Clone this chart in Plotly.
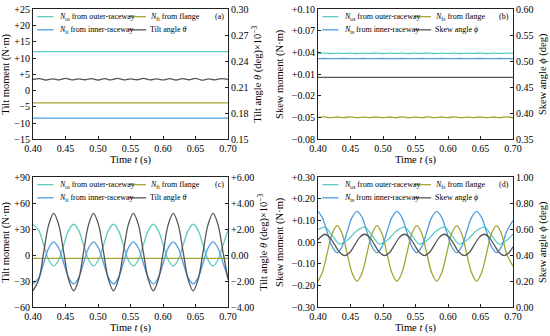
import plotly.graph_objects as go

FONT = "Liberation Serif"
C_OUT = "#5ccbc2"
C_IN = "#4e9de0"
C_FL = "#a5a433"
C_ANG = "#555555"
C_AX = "#222222"

# ---------------- shared time axis ----------------
t_ticks = [0.40, 0.45, 0.50, 0.55, 0.60, 0.65, 0.70]
t_labels = ["0.40", "0.45", "0.50", "0.55", "0.60", "0.65", "0.70"]

# ---------------- (a) tilt, steady case ----------------
t_a = [0.40, 0.70]
a_outer = [12.0, 12.0]
a_flange = [-3.8, -3.8]
a_inner = [-8.5, -8.5]
t_a_ang = [0.40, 0.41, 0.42, 0.43, 0.44, 0.45, 0.46, 0.47, 0.48, 0.49, 0.50,
           0.51, 0.52, 0.53, 0.54, 0.55, 0.56, 0.57, 0.58, 0.59, 0.60,
           0.61, 0.62, 0.63, 0.64, 0.65, 0.66, 0.67, 0.68, 0.69, 0.70]
a_angle = [0.2190, 0.2200, 0.2184, 0.2198, 0.2186, 0.2202, 0.2185, 0.2197, 0.2187, 0.2201, 0.2184,
           0.2199, 0.2186, 0.2203, 0.2185, 0.2198, 0.2187, 0.2204, 0.2186, 0.2197, 0.2185,
           0.2200, 0.2184, 0.2199, 0.2187, 0.2203, 0.2183, 0.2197, 0.2186, 0.2201, 0.2192]
a_left_vals = [-15, -10, -5, 0, 5, 10, 15, 20, 25]
a_left_text = ["\u221215", "\u221210", "\u22125", "0", "+5", "+10", "+15", "+20", "+25"]
a_right_vals = [0.15, 0.18, 0.21, 0.24, 0.27, 0.30]
a_right_text = ["0.15", "0.18", "0.21", "0.24", "0.27", "0.30"]

# ---------------- (b) skew, steady case ----------------
t_b = [0.40, 0.41, 0.42, 0.43, 0.44, 0.45, 0.46, 0.47, 0.48, 0.49, 0.50,
       0.51, 0.52, 0.53, 0.54, 0.55, 0.56, 0.57, 0.58, 0.59, 0.60,
       0.61, 0.62, 0.63, 0.64, 0.65, 0.66, 0.67, 0.68, 0.69, 0.70]
b_outer = [0.0390, 0.0393, 0.0388, 0.0392, 0.0389, 0.0393, 0.0388, 0.0392, 0.0390, 0.0393, 0.0388,
           0.0392, 0.0389, 0.0393, 0.0388, 0.0392, 0.0390, 0.0393, 0.0388, 0.0392, 0.0389,
           0.0393, 0.0388, 0.0392, 0.0390, 0.0393, 0.0388, 0.0392, 0.0389, 0.0393, 0.0390]
b_flange = [-0.0497, -0.0490, -0.0500, -0.0491, -0.0499, -0.0490, -0.0501, -0.0492, -0.0499, -0.0490, -0.0500,
            -0.0491, -0.0499, -0.0490, -0.0501, -0.0492, -0.0499, -0.0490, -0.0500, -0.0491, -0.0499,
            -0.0490, -0.0501, -0.0492, -0.0499, -0.0490, -0.0500, -0.0491, -0.0499, -0.0490, -0.0502]
b_inner = [0.0318, 0.0319, 0.0317, 0.0318, 0.0319, 0.0317, 0.0318, 0.0319, 0.0317, 0.0318, 0.0319,
           0.0317, 0.0318, 0.0319, 0.0317, 0.0318, 0.0319, 0.0317, 0.0318, 0.0319, 0.0317,
           0.0318, 0.0319, 0.0317, 0.0318, 0.0319, 0.0317, 0.0318, 0.0319, 0.0317, 0.0318]
b_angle = [0.4690, 0.4692, 0.4689, 0.4691, 0.4690, 0.4692, 0.4689, 0.4691, 0.4690, 0.4692, 0.4689,
           0.4691, 0.4690, 0.4692, 0.4689, 0.4691, 0.4690, 0.4692, 0.4689, 0.4691, 0.4690,
           0.4692, 0.4689, 0.4691, 0.4690, 0.4692, 0.4689, 0.4691, 0.4690, 0.4692, 0.4690]
b_left_vals = [-0.08, -0.05, -0.02, 0.01, 0.04, 0.07, 0.10]
b_left_text = ["\u22120.08", "\u22120.05", "\u22120.02", "+0.01", "+0.04", "+0.07", "+0.10"]
b_right_vals = [0.35, 0.40, 0.45, 0.50, 0.55, 0.60]
b_right_text = ["0.35", "0.40", "0.45", "0.50", "0.55", "0.60"]

# ---------------- (c) tilt, unsteady case ----------------
t_c = [0.4000, 0.4089, 0.4165, 0.4242, 0.4318, 0.4395, 0.4472, 0.4548,
       0.4625, 0.4702, 0.4778, 0.4855, 0.4931, 0.5008, 0.5085, 0.5161,
       0.5238, 0.5314, 0.5391, 0.5467, 0.5544, 0.5621, 0.5697, 0.5774,
       0.5850, 0.5927, 0.6004, 0.6080, 0.6157, 0.6234, 0.6310, 0.6387,
       0.6463, 0.6540, 0.6616, 0.6693, 0.6770, 0.6846, 0.6923, 0.7000]
c_outer = [35.8, 28.7, 11.8, -5.2, -12.3, -5.2, 11.8, 28.7,
           35.8, 28.7, 11.8, -5.2, -12.3, -5.2, 11.8, 28.7,
           35.8, 28.7, 11.8, -5.2, -12.3, -5.2, 11.8, 28.7,
           35.8, 28.7, 11.8, -5.2, -12.3, -5.2, 11.8, 28.7,
           35.8, 28.7, 11.8, -5.2, -12.3, -5.2, 11.8, 28.7]
c_inner = [-33.0, -25.9, -8.8, 8.4, 15.5, 8.4, -8.8, -25.9,
           -33.0, -25.9, -8.8, 8.4, 15.5, 8.4, -8.8, -25.9,
           -33.0, -25.9, -8.8, 8.4, 15.5, 8.4, -8.8, -25.9,
           -33.0, -25.9, -8.8, 8.4, 15.5, 8.4, -8.8, -25.9,
           -33.0, -25.9, -8.8, 8.4, 15.5, 8.4, -8.8, -25.9]
c_angle = [-2.73, -1.86, 0.25, 2.36, 3.23, 2.36, 0.25, -1.86,
           -2.73, -1.86, 0.25, 2.36, 3.23, 2.36, 0.25, -1.86,
           -2.73, -1.86, 0.25, 2.36, 3.23, 2.36, 0.25, -1.86,
           -2.73, -1.86, 0.25, 2.36, 3.23, 2.36, 0.25, -1.86,
           -2.73, -1.86, 0.25, 2.36, 3.23, 2.36, 0.25, -1.86]
t_c_fl = [0.40, 0.70]
c_flange = [-3.5, -3.5]
c_left_vals = [-60, -30, 0, 30, 60, 90]
c_left_text = ["\u221260", "\u221230", "0", "+30", "+60", "+90"]
c_right_vals = [-4, -2, 0, 2, 4, 6]
c_right_text = ["\u22124.00", "\u22122.00", "0.00", "+2.00", "+4.00", "+6.00"]

# ---------------- (d) skew, unsteady case ----------------
t_d = [0.4000, 0.4065, 0.4141, 0.4218, 0.4295, 0.4371, 0.4448, 0.4524,
       0.4601, 0.4678, 0.4754, 0.4831, 0.4907, 0.4984, 0.5061, 0.5137,
       0.5214, 0.5290, 0.5367, 0.5444, 0.5520, 0.5597, 0.5673, 0.5750,
       0.5827, 0.5903, 0.5980, 0.6056, 0.6133, 0.6210, 0.6286, 0.6363,
       0.6440, 0.6516, 0.6593, 0.6669, 0.6746, 0.6822, 0.6899, 0.7000]
d_inner = [0.143, 0.115, 0.048, -0.020, -0.048, -0.020, 0.048, 0.115,
           0.143, 0.115, 0.048, -0.020, -0.048, -0.020, 0.048, 0.115,
           0.143, 0.115, 0.048, -0.020, -0.048, -0.020, 0.048, 0.115,
           0.143, 0.115, 0.048, -0.020, -0.048, -0.020, 0.048, 0.115,
           0.143, 0.115, 0.048, -0.020, -0.048, -0.020, 0.048, 0.100]
d_flange = [-0.179, -0.141, -0.051, 0.040, 0.077, 0.040, -0.051, -0.141,
            -0.179, -0.141, -0.051, 0.040, 0.077, 0.040, -0.051, -0.141,
            -0.179, -0.141, -0.051, 0.040, 0.077, 0.040, -0.051, -0.141,
            -0.179, -0.141, -0.051, 0.040, 0.077, 0.040, -0.051, -0.141,
            -0.179, -0.141, -0.051, 0.040, 0.077, 0.040, -0.051, -0.110]
t_d_out = [0.4000, 0.4105, 0.4220, 0.4335, 0.4462, 0.4588,
           0.4718, 0.4833, 0.4948, 0.5075, 0.5201,
           0.5331, 0.5446, 0.5561, 0.5688, 0.5814,
           0.5944, 0.6059, 0.6174, 0.6301, 0.6427,
           0.6557, 0.6672, 0.6787, 0.6914, 0.7000]
d_outer = [0.058, 0.070, 0.031, -0.008, 0.012, 0.051,
           0.070, 0.031, -0.008, 0.012, 0.051,
           0.070, 0.031, -0.008, 0.012, 0.051,
           0.070, 0.031, -0.008, 0.012, 0.051,
           0.070, 0.031, -0.008, 0.012, 0.038]
t_d_ang = [0.4000, 0.4105, 0.4182, 0.4258, 0.4335, 0.4411, 0.4488, 0.4565, 0.4641,
           0.4718, 0.4795, 0.4871, 0.4948, 0.5024, 0.5101, 0.5178, 0.5254,
           0.5331, 0.5408, 0.5484, 0.5561, 0.5637, 0.5714, 0.5791, 0.5867,
           0.5944, 0.6021, 0.6097, 0.6174, 0.6250, 0.6327, 0.6404, 0.6480,
           0.6557, 0.6634, 0.6710, 0.6787, 0.6863, 0.6940, 0.7000]
d_angle = [0.519, 0.562, 0.538, 0.480, 0.421, 0.397, 0.421, 0.480, 0.538,
           0.562, 0.538, 0.480, 0.421, 0.397, 0.421, 0.480, 0.538,
           0.562, 0.538, 0.480, 0.421, 0.397, 0.421, 0.480, 0.538,
           0.562, 0.538, 0.480, 0.421, 0.397, 0.421, 0.480, 0.538,
           0.562, 0.538, 0.480, 0.421, 0.397, 0.421, 0.466]
d_left_vals = [-0.30, -0.20, -0.10, 0.00, 0.10, 0.20, 0.30]
d_left_text = ["\u22120.30", "\u22120.20", "\u22120.10", "0.00", "+0.10", "+0.20", "+0.30"]
d_right_vals = [0.0, 0.2, 0.4, 0.6, 0.8, 1.0]
d_right_text = ["0.00", "0.20", "0.40", "0.60", "0.80", "1.00"]

# ---------------- figure ----------------
W, H = 550, 336
xdom_left = [33 / W, 228 / W]
xdom_right = [318 / W, 513 / W]
ydom_top = [(H - 139.3) / H, (H - 9.3) / H]
ydom_bot = [(H - 307.3) / H, (H - 177.3) / H]

fig = go.Figure()
lw = 1.3

panels = [
    dict(tag="(a)", xa="x", yl="y", yr="y2", xd=xdom_left, yd=ydom_top,
         sub=("ot", "ft", "it"), ang="Tilt angle <i>\u03b8</i>",
         ytitle="Tilt moment (N\u00b7m)", rtitle="Tilt angle <i>\u03b8</i> (deg)\u00d710<sup>\u22123</sup>",
         lr=[-15, 25], rr=[0.15, 0.30], lv=a_left_vals, lt=a_left_text, rv=a_right_vals, rt=a_right_text,
         series=[(t_a, a_outer, C_OUT, "L"), (t_a, a_flange, C_FL, "L"),
                 (t_a, a_inner, C_IN, "L"), (t_a_ang, a_angle, C_ANG, "R")]),
    dict(tag="(b)", xa="x2", yl="y3", yr="y4", xd=xdom_right, yd=ydom_top,
         sub=("os", "fs", "is"), ang="Skew angle <i>\u03d5</i>",
         ytitle="Skew moment (N\u00b7m)", rtitle="Skew angle <i>\u03d5</i> (deg)",
         lr=[-0.08, 0.10], rr=[0.35, 0.60], lv=b_left_vals, lt=b_left_text, rv=b_right_vals, rt=b_right_text,
         series=[(t_b, b_outer, C_OUT, "L"), (t_b, b_flange, C_FL, "L"),
                 (t_b, b_inner, C_IN, "L"), (t_b, b_angle, C_ANG, "R")]),
    dict(tag="(c)", xa="x3", yl="y5", yr="y6", xd=xdom_left, yd=ydom_bot,
         sub=("ot", "ft", "it"), ang="Tilt angle <i>\u03b8</i>",
         ytitle="Tilt moment (N\u00b7m)", rtitle="Tilt angle <i>\u03b8</i> (deg)\u00d710<sup>\u22123</sup>",
         lr=[-60, 90], rr=[-4, 6], lv=c_left_vals, lt=c_left_text, rv=c_right_vals, rt=c_right_text,
         series=[(t_c, c_outer, C_OUT, "L"), (t_c_fl, c_flange, C_FL, "L"),
                 (t_c, c_inner, C_IN, "L"), (t_c, c_angle, C_ANG, "R")]),
    dict(tag="(d)", xa="x4", yl="y7", yr="y8", xd=xdom_right, yd=ydom_bot,
         sub=("os", "fs", "is"), ang="Skew angle <i>\u03d5</i>",
         ytitle="Skew moment (N\u00b7m)", rtitle="Skew angle <i>\u03d5</i> (deg)",
         lr=[-0.30, 0.30], rr=[0.0, 1.0], lv=d_left_vals, lt=d_left_text, rv=d_right_vals, rt=d_right_text,
         series=[(t_d_out, d_outer, C_OUT, "L"), (t_d, d_flange, C_FL, "L"),
                 (t_d, d_inner, C_IN, "L"), (t_d_ang, d_angle, C_ANG, "R")]),
]

tickfont = dict(family=FONT, size=10, color="black")
titlefont = dict(family=FONT, size=10.5, color="black")
layout = dict(width=W, height=H, margin=dict(l=0, r=0, t=0, b=0), template="none",
              showlegend=False, paper_bgcolor="white", plot_bgcolor="white",
              font=dict(family=FONT, size=11, color="black"))

# legend key layout inside each panel (domain fractions): column line spans, text start, row heights
KEY_LINE_X = [(0.022, 0.105), (0.492, 0.580)]
KEY_TEXT_X = [0.122, 0.590]
KEY_ROW_Y = [0.943, 0.842]
KEY_POS = [(0, 0), (0, 1), (1, 0), (1, 1)]  # (row, col) of outer, flange, inner, angle

shapes = []
annotations = []
for p in panels:
    names = ["<i>N</i><sub>%s</sub> from outer-raceway" % p["sub"][0],
             "<i>N</i><sub>%s</sub> from flange" % p["sub"][1],
             "<i>N</i><sub>%s</sub> from inner-raceway" % p["sub"][2],
             p["ang"]]
    for (x, y, col, side), nm, (r, c) in zip(p["series"], names, KEY_POS):
        fig.add_trace(go.Scatter(x=x, y=y, mode="lines", name=nm,
                                 line=dict(color=col, width=lw, shape="spline", smoothing=1.0),
                                 xaxis=p["xa"], yaxis=p["yl"] if side == "L" else p["yr"],
                                 hoverinfo="skip", showlegend=False))
        shapes.append(dict(type="line", xref=p["xa"] + " domain", yref=p["yl"] + " domain",
                           x0=KEY_LINE_X[c][0], x1=KEY_LINE_X[c][1], y0=KEY_ROW_Y[r], y1=KEY_ROW_Y[r],
                           line=dict(color=col, width=lw)))
        annotations.append(dict(text=nm, xref=p["xa"] + " domain", yref=p["yl"] + " domain",
                                x=KEY_TEXT_X[c], y=KEY_ROW_Y[r], xanchor="left", yanchor="middle",
                                showarrow=False, font=dict(family=FONT, size=8, color="black")))
    annotations.append(dict(text=p["tag"], xref=p["xa"] + " domain", yref=p["yl"] + " domain",
                            x=0.99, y=0.943, xanchor="right", yanchor="middle", showarrow=False,
                            font=dict(family=FONT, size=8, color="black")))
    xk = "xaxis" + p["xa"][1:]
    ylk = "yaxis" + p["yl"][1:]
    yrk = "yaxis" + p["yr"][1:]
    common = dict(ticks="inside", ticklen=3, tickcolor=C_AX, showline=True, linecolor=C_AX,
                  linewidth=1, showgrid=False, zeroline=False, tickfont=tickfont, automargin=False)
    layout[xk] = dict(domain=p["xd"], anchor=p["yl"], range=[0.40, 0.70],
                      tickvals=t_ticks, ticktext=t_labels, mirror=True,
                      title=dict(text="Time <i>t</i> (s)", font=titlefont, standoff=0), **common)
    layout[ylk] = dict(domain=p["yd"], anchor=p["xa"], range=p["lr"],
                       tickvals=p["lv"], ticktext=p["lt"],
                       title=dict(text=p["ytitle"], font=titlefont, standoff=6), **common)
    layout[yrk] = dict(overlaying=p["yl"], side="right", anchor=p["xa"], range=p["rr"],
                       tickvals=p["rv"], ticktext=p["rt"],
                       title=dict(text=p["rtitle"], font=titlefont, standoff=6), **common)

layout["shapes"] = shapes
layout["annotations"] = annotations
fig.update_layout(**layout)

# the page itself should not add the browser's default 8px body margin
fig.write_html("out.html", config={"displayModeBar": False, "staticPlot": True},
               post_script="document.body.style.margin='0';document.body.style.overflow='hidden';")
